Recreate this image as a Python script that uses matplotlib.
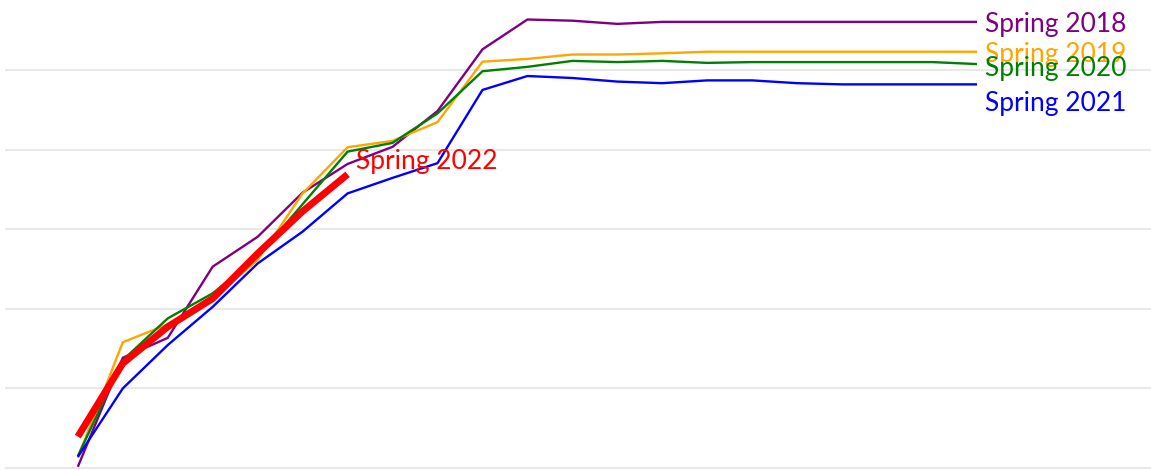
import matplotlib
matplotlib.use("Agg")
import matplotlib.pyplot as plt
import numpy as np

# weekly cumulative values per season (index = week)
spring_2018 = [0.3, 27.7, 32.7, 50.6, 58.1, 69.2, 76.4, 80.7, 89.7, 105.2, 112.7,
               112.4, 111.6, 112.1, 112.1, 112.1, 112.1, 112.1, 112.1, 112.1, 112.1]
spring_2019 = [2.6, 31.6, 36.1, 42.6, 52.3, 69.0, 80.6, 82.2, 86.9, 102.1, 102.8,
               103.9, 103.9, 104.2, 104.6, 104.6, 104.6, 104.6, 104.6, 104.6, 104.6]
spring_2020 = [3.0, 27.1, 37.6, 43.9, 53.1, 66.3, 79.5, 81.7, 89.1, 99.7, 100.8,
               102.3, 102.0, 102.3, 101.8, 102.0, 102.0, 102.0, 102.0, 102.0, 101.5]
spring_2021 = [2.8, 20.0, 30.9, 40.5, 51.4, 59.4, 69.0, 72.9, 76.6, 95.0, 98.5,
               98.0, 97.1, 96.7, 97.4, 97.4, 96.7, 96.4, 96.4, 96.4, 96.4]
spring_2022 = [7.9, 26.3, 35.5, 42.6, 53.9, 64.5, 73.8]

# label nudges (points) so the end labels look like the original
series = [
    ("Spring 2018", spring_2018, "#800080", 1.7, -2),
    ("Spring 2019", spring_2019, "#FFA500", 1.7, -2),
    ("Spring 2020", spring_2020, "#008000", 1.7, -3.5),
    ("Spring 2021", spring_2021, "#0000FF", 1.7, -13.5),
    ("Spring 2022", spring_2022, "#FF0000", 5.0, 9),
]

plt.rcParams['font.family'] = ['Lato', 'DejaVu Sans']

fig = plt.figure(figsize=(11.51, 4.70), dpi=100)
ax = fig.add_axes([5 / 1151, 0, 1146 / 1151, 1])

for name, vals, color, lw, dy in series:
    x = np.arange(len(vals))
    ax.plot(x, vals, color=color, linewidth=lw, solid_capstyle='butt', zorder=3)
    ax.annotate(name, xy=(x[-1], vals[-1]), xytext=(6, dy), textcoords='offset points',
                color=color, fontsize=19, va='center', ha='left')

ax.set_xlim(-1.62, 23.87)
ax.set_ylim(-0.5, 117.6)
ax.set_yticks(np.arange(0, 101, 20))
ax.grid(axis='y', color='#e8e8e8', linewidth=1.5)
ax.set_axisbelow(True)
ax.tick_params(left=False, bottom=False, labelleft=False, labelbottom=False)
for s in ax.spines.values():
    s.set_visible(False)

fig.savefig("out.png", dpi=100)
